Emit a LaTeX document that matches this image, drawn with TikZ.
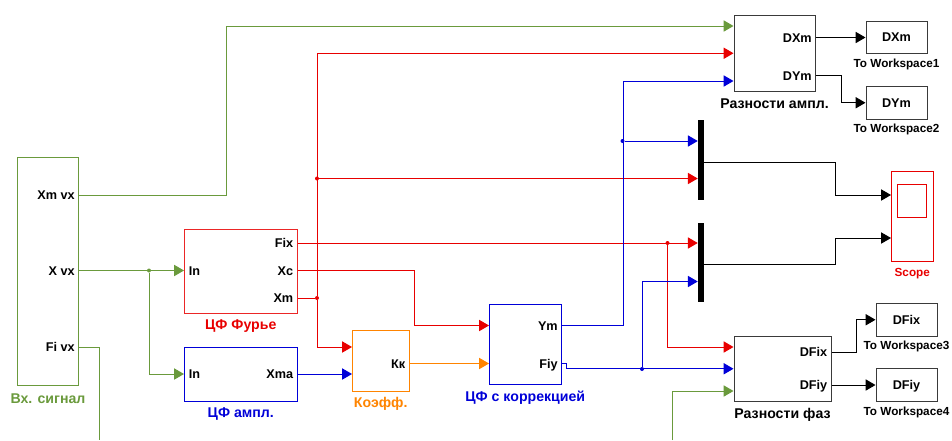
\documentclass[tikz,border=0pt]{standalone}
\usepackage{fontspec}
\setmainfont{Liberation Sans}
\usepackage{xcolor}
\usetikzlibrary{arrows.meta,positioning}
\definecolor{wgreen}{HTML}{6A9A3C}
\definecolor{wred}{HTML}{E80000}
\definecolor{wblue}{HTML}{0000D8}
\definecolor{worange}{HTML}{FF8400}
\definecolor{wgray}{HTML}{3A3A3A}
\tikzset{
  blk/.style={draw,inner sep=0pt,line width=.75pt},
  size/.style 2 args={minimum width=#1*.75pt,minimum height=#2*.75pt},
  outport/.style={anchor=east,inner sep=0pt,text height=7pt,text depth=0pt,text=black,font=\bfseries\fontsize{9.5}{10}\selectfont},
  inport/.style={outport,anchor=west},
  blkcap/.style={inner sep=0pt,text height=7.6pt,text depth=0pt,font=\bfseries\fontsize{10.6}{11}\selectfont},
  blkcapsmall/.style={blkcap,text height=6.4pt,font=\bfseries\fontsize{8.8}{10}\selectfont},
  dot/.style={circle,fill,inner sep=0pt,minimum size=3pt},
  wire/.style={line width=.75pt}
}
\begin{document}
\begin{tikzpicture}[x=.75pt,y=-.75pt,>={Triangle[length=7.4pt,width=8.4pt]}]
\useasboundingbox (0,0) rectangle (952,440);
% blocks
\node[blk,size={61}{228},wgreen] (inp) at (48,271) {};
\node[blk,size={112.5}{84},wred!85!white] (fourier) at (240.75,271) {};
\node[blk,size={112.5}{54},wblue] (ampl) at (240.75,374) {};
\node[blk,size={56.5}{60.5},worange] (koef) at (380.75,360.75) {};
\node[blk,size={71.5}{80},wblue] (corr) at (525.25,344) {};
\node[blk,size={81}{75.5},wgray] (razna) at (774.5,53.25) {};
\node[blk,size={97}{65.5},wgray] (raznf) at (782.5,368.75) {};
\node[blk,size={61}{32.5},wgray] (tw1) at (896.5,37.25) {};
\node[blk,size={61}{32.5},wgray] (tw2) at (896.5,102.75) {};
\node[blk,size={61}{32.5},wgray] (tw3) at (906.5,319.75) {};
\node[blk,size={61}{32.5},wgray] (tw4) at (906.5,385) {};
\node[fill=black,inner sep=0pt,size={6}{80.5}] (mux1) at (701,159.75) {};
\node[fill=black,inner sep=0pt,size={6}{79}] (mux2) at (701,262.5) {};
\node[blk,size={41.5}{90},wred] (scope) at (912.25,216.5) {};
\node[blk,size={29}{33.5},wred] (screen) at (912,200.75) {};
% ports
\node[outport] (xmvx) at (75,195) {Xm vx};
\node[outport] (xvx) at (75,270.5) {X vx};
\node[outport] (fivx) at (75,347) {Fi vx};
\node[inport] (fin) at (188.5,270.5) {In};
\node[outport] (fix) at (293.5,243) {Fix};
\node[outport] (xc) at (293.5,270.5) {Xc};
\node[outport] (xm) at (293.5,298) {Xm};
\node[inport] (ain) at (188.5,374) {In};
\node[outport] (xma) at (293.5,374) {Xma};
\node[outport] (kk) at (405.5,363.5) {Кк};
\node[outport] (ym) at (558,325.5) {Ym};
\node[outport] (fiy) at (558,363.5) {Fiy};
\node[outport] (dxm) at (812,37.5) {DXm};
\node[outport] (dym) at (812,75.5) {DYm};
\node[outport] (dfix) at (827.5,352) {DFix};
\node[outport] (dfiy) at (827.5,385) {DFiy};
\node[outport,anchor=center] at (tw1) {DXm};
\node[outport,anchor=center] at (tw2) {DYm};
\node[outport,anchor=center] at (tw3) {DFix};
\node[outport,anchor=center] at (tw4) {DFiy};
% captions
\node[blkcap,wgreen,below=5.5pt of inp] {Вх. сигнал};
\node[blkcap,wred,below=4.5pt of fourier] {ЦФ Фурье};
\node[blkcap,wblue,below=4.5pt of ampl] {ЦФ ампл.};
\node[blkcap,worange,below=4.5pt of koef] {Коэфф.};
\node[blkcap,wblue,below=5pt of corr] {ЦФ с коррекцией};
\node[blkcap,black,below=5pt of razna] {Разности ампл.};
\node[blkcap,black,below=4.5pt of raznf] {Разности фаз};
\node[blkcapsmall,black,below=3.5pt of tw1] {To Workspace1};
\node[blkcapsmall,black,below=3.5pt of tw2] {To Workspace2};
\node[blkcapsmall,black,below=3.5pt of tw3] {To Workspace3};
\node[blkcapsmall,black,below=3.5pt of tw4] {To Workspace4};
\node[blkcapsmall,wred,below=4pt of scope] {Scope};
% junctions
\node[dot,wgreen] (jx) at (149,270.5) {};
\node[dot,wred] (jm) at (317,298) {};
\node[dot,wred] (jmup) at (317,178.5) {};
\node[dot,wred] (jfix) at (667.5,243) {};
\node[dot,wblue] (jym) at (622.5,141) {};
\node[dot,wblue] (jfiy) at (642,369) {};
% free ends
\coordinate (fibot) at (99,440);
\coordinate (grbot) at (672,440);
\coordinate (m1out) at (704,162.5);
\coordinate (m2out) at (704,264.5);
% green wires
\begin{scope}[wire,wgreen]
\draw[->] (inp.east |- xmvx) -- ++(147,0) |- ([yshift=27.25*.75pt]razna.west);
\draw[->] (inp.east |- xvx) -- (jx) -- (fourier.west |- xvx);
\draw[->] (jx) |- (ampl.west |- ain);
\draw (inp.east |- fivx) -| (fibot);
\draw[->] (grbot) |- ([yshift=-22.25*.75pt]raznf.west);
\end{scope}
% red wires
\begin{scope}[wire,wred]
\draw (fourier.east |- xm) -- (jm);
\draw[->] (jm) |- (razna.west);
\draw[->] (jm) |- ([yshift=13.75*.75pt]koef.west);
\draw[->] (jmup) -- (mux1.west |- jmup);
\draw[->] (fourier.east |- fix) -- (mux2.west |- fix);
\draw[->] (jfix) |- ([yshift=21.75*.75pt]raznf.west);
\draw[->] (fourier.east |- xc) -- ++(117,0) |- (corr.west |- ym);
\end{scope}
% blue wires
\begin{scope}[wire,wblue]
\draw[->] (ampl.east |- xma) -- ([yshift=-13.25*.75pt]koef.west);
\draw[->] (corr.east |- ym) -- ++(61.5,0) |- ([yshift=-27.75*.75pt]razna.west);
\draw[->] (jym) -- (mux1.west |- jym);
\draw[->] (corr.east |- fiy) -- ++(5,0) |- (raznf.west);
\draw[->] (jfiy) |- ([yshift=-19*.75pt]mux2.west);
\end{scope}
\draw[wire,worange,->] (koef.east |- kk) -- (corr.west |- kk);
% black wires
\begin{scope}[wire,black]
\draw[->] (razna.east |- dxm) -- (tw1.west |- dxm);
\draw[->] (razna.east |- dym) -- ++(25.5,0) |- (tw2.west);
\draw[->] (m1out) -- ++(131,0) |- ([yshift=21.5*.75pt]scope.west);
\draw[->] (m2out) -- ++(131,0) |- ([yshift=-21.5*.75pt]scope.west);
\draw[->] (raznf.east |- dfix) -- ++(25,0) |- (tw3.west);
\draw[->] (raznf.east |- dfiy) -- (tw4.west);
\end{scope}
\end{tikzpicture}
\end{document}
